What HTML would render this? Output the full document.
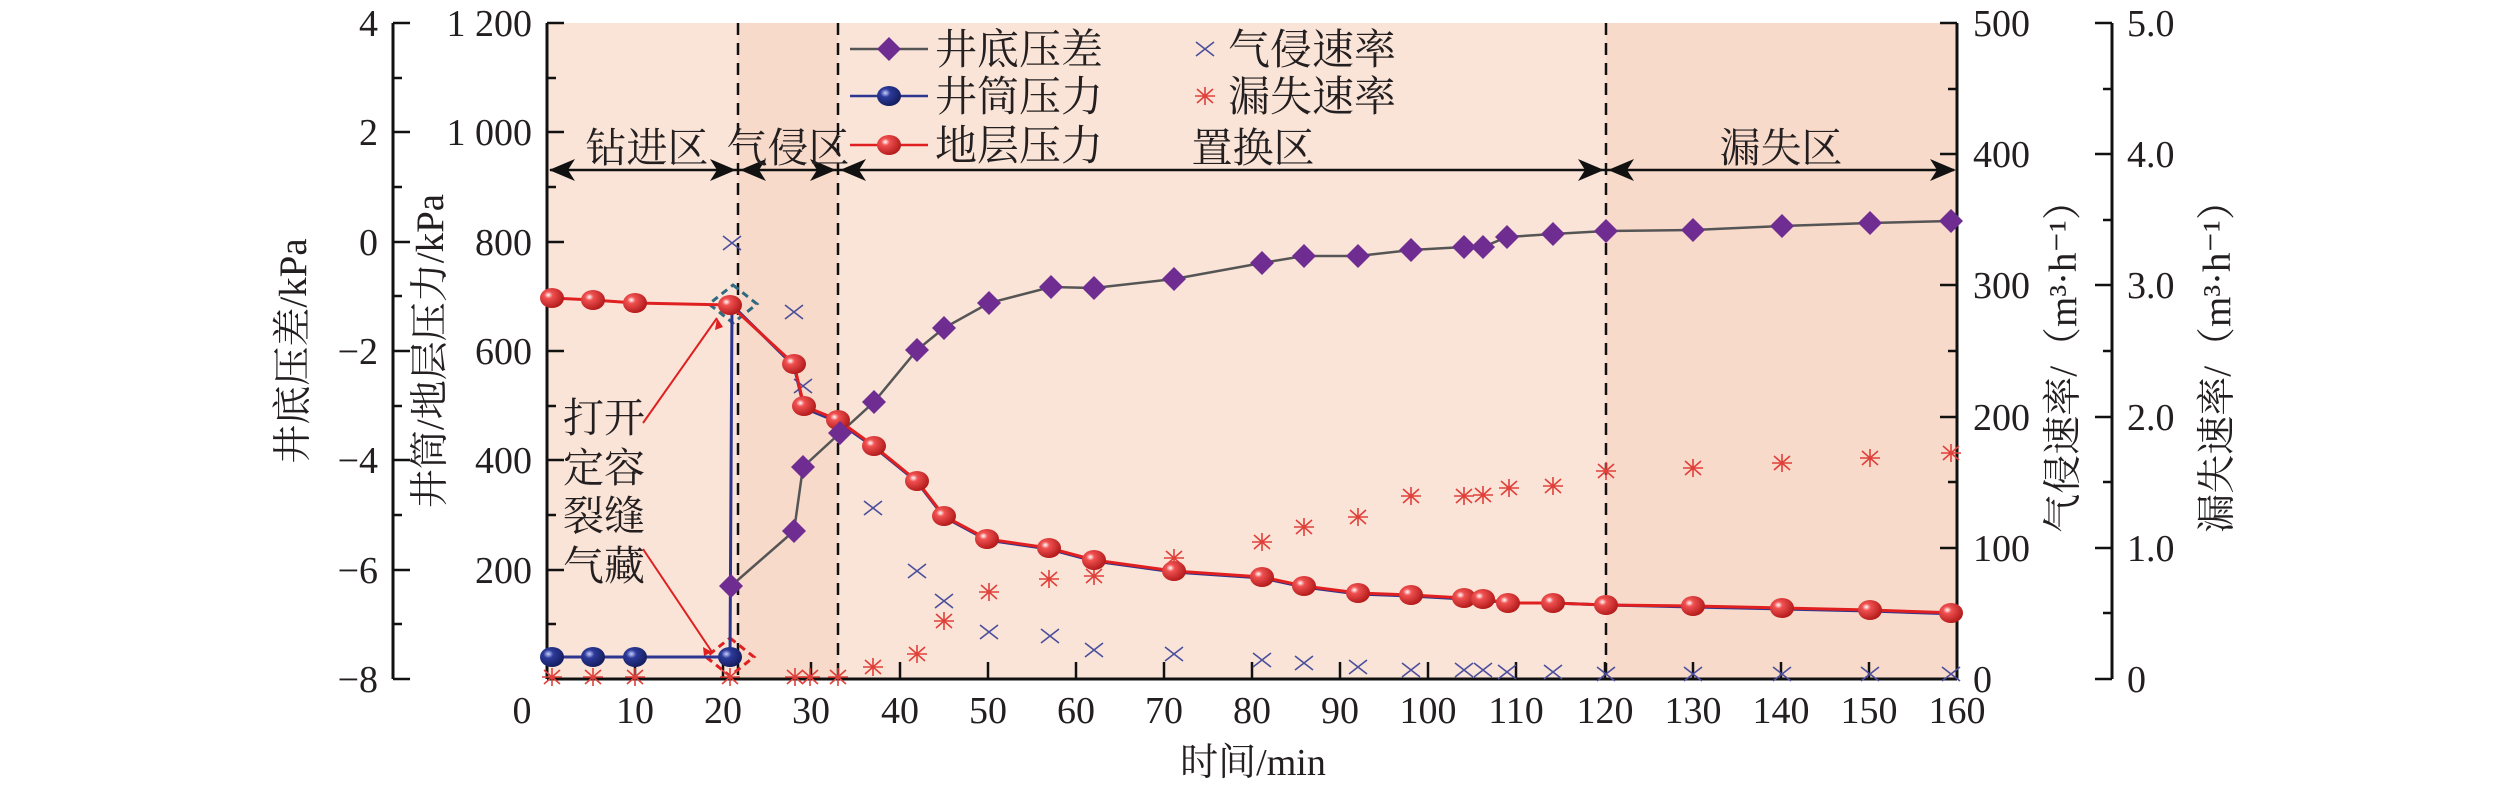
<!DOCTYPE html>
<html><head><meta charset="utf-8"><style>
html,body{margin:0;padding:0;background:#fff;}
svg{display:block;}
text{font-family:"Liberation Serif","Noto Serif CJK SC",serif;fill:#231f20;}
</style></head><body>
<svg width="2519" height="789" viewBox="0 0 2519 789" xmlns="http://www.w3.org/2000/svg">
<defs>
<radialGradient id="rb" cx="0.35" cy="0.35" r="0.7"><stop offset="0" stop-color="#fff"/><stop offset="0.25" stop-color="#f05050"/><stop offset="1" stop-color="#b01818"/></radialGradient>
<radialGradient id="bb" cx="0.35" cy="0.35" r="0.7"><stop offset="0" stop-color="#c8d0ff"/><stop offset="0.3" stop-color="#2c3a9a"/><stop offset="1" stop-color="#141c5c"/></radialGradient>
<g id="ci"><ellipse rx="12" ry="10" fill="url(#rb)"/></g>
<g id="cb"><ellipse rx="12" ry="10" fill="url(#bb)"/></g>
<g id="di"><path d="M0 -12 L12 0 L0 12 L-12 0Z" fill="#6f2c91"/></g>
<g id="xm"><path d="M-9 -7 L9 7 M-9 7 L9 -7" stroke="#4b4f9c" stroke-width="1.6"/></g>
<g id="st"><path d="M-10 0 L10 0 M0 -9 L0 9 M-8 -7 L8 7 M-8 7 L8 -7" stroke="#e0403a" stroke-width="1.6"/></g>
</defs>
<rect x="547" y="23" width="1410" height="656" fill="#fae4d8"/>
<rect x="738" y="23" width="100" height="656" fill="#f8dacb"/>
<rect x="1606" y="23" width="351" height="656" fill="#f8dacb"/>
<g stroke="#111" stroke-width="2.5" stroke-dasharray="12,8">
<line x1="738" y1="23" x2="738" y2="679"/><line x1="838" y1="23" x2="838" y2="679"/><line x1="1606" y1="23" x2="1606" y2="679"/>
</g>
<g stroke="#111" stroke-width="3" fill="none">
<line x1="547" y1="23" x2="547" y2="679"/>
<line x1="1957" y1="23" x2="1957" y2="679"/>
<line x1="547" y1="679" x2="1957" y2="679"/>
<line x1="393" y1="23" x2="393" y2="679"/>
<line x1="2112" y1="23" x2="2112" y2="679"/>
</g>
<g stroke="#111" stroke-width="2.5">
<path d="M393 23h17M393 132h17M393 242h17M393 351h17M393 460h17M393 570h17M393 679h17M393 78h9M393 187h9M393 296h9M393 406h9M393 515h9M393 624h9"/>
<path d="M547 23h17M547 132h17M547 242h17M547 351h17M547 460h17M547 570h17M547 78h9M547 187h9M547 296h9M547 406h9M547 515h9M547 624h9"/>
<path d="M1957 23h-17M1957 154h-17M1957 285h-17M1957 417h-17M1957 548h-17M1957 89h-9M1957 220h-9M1957 351h-9M1957 482h-9M1957 613h-9"/>
<path d="M2112 23h-17M2112 154h-17M2112 285h-17M2112 417h-17M2112 548h-17M2112 679h-17M2112 89h-9M2112 220h-9M2112 351h-9M2112 482h-9M2112 613h-9"/>
<path d="M635 679v-17M723 679v-17M811 679v-17M900 679v-17M988 679v-17M1076 679v-17M1164 679v-17M1252 679v-17M1340 679v-17M1428 679v-17M1516 679v-17M1605 679v-17M1693 679v-17M1781 679v-17M1869 679v-17"/>
</g>
<g font-size="38" text-anchor="end">
<text x="378" y="36">4</text><text x="378" y="145">2</text><text x="378" y="255">0</text><text x="378" y="364">−2</text><text x="378" y="473">−4</text><text x="378" y="583">−6</text><text x="378" y="692">−8</text>
<text x="532" y="36">1 200</text><text x="532" y="145">1 000</text><text x="532" y="255">800</text><text x="532" y="364">600</text><text x="532" y="473">400</text><text x="532" y="583">200</text>
</g>
<g font-size="38" text-anchor="start">
<text x="1973" y="36">500</text><text x="1973" y="167">400</text><text x="1973" y="298">300</text><text x="1973" y="430">200</text><text x="1973" y="561">100</text><text x="1973" y="692">0</text>
<text x="2127" y="36">5.0</text><text x="2127" y="167">4.0</text><text x="2127" y="298">3.0</text><text x="2127" y="430">2.0</text><text x="2127" y="561">1.0</text><text x="2127" y="692">0</text>
</g>
<g font-size="38" text-anchor="middle">
<text x="522" y="723">0</text><text x="635" y="723">10</text><text x="723" y="723">20</text><text x="811" y="723">30</text><text x="900" y="723">40</text><text x="988" y="723">50</text><text x="1076" y="723">60</text><text x="1164" y="723">70</text><text x="1252" y="723">80</text><text x="1340" y="723">90</text><text x="1428" y="723">100</text><text x="1516" y="723">110</text><text x="1605" y="723">120</text><text x="1693" y="723">130</text><text x="1781" y="723">140</text><text x="1869" y="723">150</text><text x="1957" y="723">160</text>
<text x="1253" y="775">时间/min</text>
</g>
<g font-size="39" text-anchor="middle">
<text transform="translate(306,351) rotate(-90)">井底压差/kPa</text>
<text transform="translate(443,351) rotate(-90)">井筒/地层压力/kPa</text>
<text transform="translate(2076,357) rotate(-90)">气侵速率/（m³·h⁻¹）</text>
<text transform="translate(2230,357) rotate(-90)">漏失速率/（m³·h⁻¹）</text>
</g>
<g stroke="#111" stroke-width="2.5"><line x1="550" y1="170" x2="1954" y2="170"/></g>
<g fill="#111">
<path d="M549 170l26-11-7 11 7 11z"/><path d="M736 170l-26-11 7 11-7 11z"/>
<path d="M740 170l26-11-7 11 7 11z"/><path d="M836 170l-26-11 7 11-7 11z"/>
<path d="M840 170l26-11-7 11 7 11z"/><path d="M1604 170l-26-11 7 11-7 11z"/>
<path d="M1608 170l26-11-7 11 7 11z"/><path d="M1956 170l-26-11 7 11-7 11z"/>
</g>
<g font-size="41" text-anchor="middle">
<text x="647" y="162">钻进区</text><text x="788" y="162">气侵区</text><text x="1253" y="162">置换区</text><text x="1781" y="162">漏失区</text>
</g>
<g font-size="41"><text x="563" y="432">打开</text><text x="563" y="482">定容</text><text x="563" y="530">裂缝</text><text x="563" y="580">气藏</text></g>
<g stroke="#e02020" stroke-width="2" fill="none"><path d="M643 423L717 318"/><path d="M643 549L712 652"/></g>
<path d="M717 318l-2 12 8-3z" fill="#e02020"/><path d="M712 652l-9-5 1 9z" fill="#e02020"/>
<path d="M733 285L757 304L733 323L709 304Z" fill="none" stroke="#2e6a80" stroke-width="3" stroke-dasharray="7,5"/>
<path d="M730 638L754 657L730 676L706 657Z" fill="none" stroke="#e02020" stroke-width="3" stroke-dasharray="7,5"/>
<g>
<use href="#st" x="552" y="677"/><use href="#st" x="593" y="677"/><use href="#st" x="635" y="677"/><use href="#st" x="730" y="677"/><use href="#st" x="795" y="677"/><use href="#st" x="810" y="677"/><use href="#st" x="838" y="677"/>
<use href="#st" x="873" y="667"/><use href="#st" x="917" y="654"/><use href="#st" x="944" y="621"/><use href="#st" x="989" y="592"/><use href="#st" x="1049" y="579"/><use href="#st" x="1094" y="576"/><use href="#st" x="1174" y="558"/><use href="#st" x="1262" y="542"/><use href="#st" x="1304" y="527"/><use href="#st" x="1358" y="517"/><use href="#st" x="1411" y="496"/><use href="#st" x="1464" y="496"/><use href="#st" x="1483" y="495"/><use href="#st" x="1509" y="488"/><use href="#st" x="1553" y="486"/><use href="#st" x="1606" y="471"/><use href="#st" x="1693" y="468"/><use href="#st" x="1782" y="463"/><use href="#st" x="1870" y="458"/><use href="#st" x="1951" y="453"/>
</g>
<g>
<use href="#xm" x="732" y="243"/><use href="#xm" x="794" y="312"/><use href="#xm" x="803" y="386"/><use href="#xm" x="873" y="508"/><use href="#xm" x="917" y="571"/><use href="#xm" x="944" y="601"/><use href="#xm" x="989" y="632"/><use href="#xm" x="1050" y="636"/><use href="#xm" x="1094" y="650"/><use href="#xm" x="1174" y="654"/><use href="#xm" x="1262" y="660"/><use href="#xm" x="1304" y="663"/><use href="#xm" x="1358" y="667"/><use href="#xm" x="1411" y="670"/><use href="#xm" x="1464" y="670"/><use href="#xm" x="1483" y="670"/><use href="#xm" x="1507" y="672"/><use href="#xm" x="1553" y="672"/><use href="#xm" x="1606" y="674"/><use href="#xm" x="1693" y="674"/><use href="#xm" x="1782" y="674"/><use href="#xm" x="1870" y="674"/><use href="#xm" x="1951" y="674"/>
</g>
<polyline fill="none" stroke="#555" stroke-width="2.5" points="731,586 794,531 803,467 840,433 874,402 917,350 944,328 989,303 1051,287 1094,288 1174,279 1262,263 1304,256 1358,256 1411,250 1464,247 1483,247 1507,237 1553,234 1606,231 1693,230 1782,226 1870,223 1951,221"/>
<polyline fill="none" stroke="#2c3590" stroke-width="3" points="552,657 593,657 635,657 730,657 732,305 794,366 804,408 838,422 874,447 917,482 944,517 987,540 1049,549 1094,561 1174,572 1262,578 1304,587 1358,594 1411,596 1464,599 1483,600 1508,603 1553,603 1606,605 1693,607 1782,609 1870,611 1957,614"/>
<polyline fill="none" stroke="#e02020" stroke-width="3" points="552,298 593,300 635,303 730,305 794,364 804,406 838,420 874,446 917,481 944,516 987,539 1049,548 1094,560 1174,571 1262,577 1304,586 1358,593 1411,595 1464,598 1483,599 1508,603 1553,603 1606,605 1693,606 1782,608 1870,610 1957,613"/>
<g>
<use href="#cb" x="552" y="657"/><use href="#cb" x="593" y="657"/><use href="#cb" x="635" y="657"/><use href="#cb" x="730" y="657"/>
</g>
<g>
<use href="#ci" x="552" y="298"/><use href="#ci" x="593" y="300"/><use href="#ci" x="635" y="303"/><use href="#ci" x="730" y="305"/><use href="#ci" x="794" y="364"/><use href="#ci" x="804" y="406"/><use href="#ci" x="838" y="420"/><use href="#ci" x="874" y="446"/><use href="#ci" x="917" y="481"/><use href="#ci" x="944" y="516"/><use href="#ci" x="987" y="539"/><use href="#ci" x="1049" y="548"/><use href="#ci" x="1094" y="560"/><use href="#ci" x="1174" y="571"/><use href="#ci" x="1262" y="577"/><use href="#ci" x="1304" y="586"/><use href="#ci" x="1358" y="593"/><use href="#ci" x="1411" y="595"/><use href="#ci" x="1464" y="598"/><use href="#ci" x="1483" y="599"/><use href="#ci" x="1508" y="603"/><use href="#ci" x="1553" y="603"/><use href="#ci" x="1606" y="605"/><use href="#ci" x="1693" y="606"/><use href="#ci" x="1782" y="608"/><use href="#ci" x="1870" y="610"/><use href="#ci" x="1951" y="613"/>
</g>
<g>
<use href="#di" x="731" y="586"/><use href="#di" x="794" y="531"/><use href="#di" x="803" y="467"/><use href="#di" x="840" y="433"/><use href="#di" x="874" y="402"/><use href="#di" x="917" y="350"/><use href="#di" x="944" y="328"/><use href="#di" x="989" y="303"/><use href="#di" x="1051" y="287"/><use href="#di" x="1094" y="288"/><use href="#di" x="1174" y="279"/><use href="#di" x="1262" y="263"/><use href="#di" x="1304" y="256"/><use href="#di" x="1358" y="256"/><use href="#di" x="1411" y="250"/><use href="#di" x="1464" y="247"/><use href="#di" x="1483" y="247"/><use href="#di" x="1507" y="237"/><use href="#di" x="1553" y="234"/><use href="#di" x="1606" y="231"/><use href="#di" x="1693" y="230"/><use href="#di" x="1782" y="226"/><use href="#di" x="1870" y="223"/><use href="#di" x="1951" y="221"/>
</g>
<g stroke-width="2.5">
<line x1="850" y1="49" x2="928" y2="49" stroke="#555"/><line x1="850" y1="96" x2="928" y2="96" stroke="#2c3590"/><line x1="850" y1="145" x2="928" y2="145" stroke="#e02020"/>
</g>
<use href="#di" x="889" y="49"/><use href="#cb" x="889" y="96"/><use href="#ci" x="889" y="145"/>
<use href="#xm" x="1205" y="49"/><use href="#st" x="1205" y="96"/>
<g font-size="42">
<text x="935" y="64">井底压差</text><text x="935" y="111">井筒压力</text><text x="935" y="160">地层压力</text>
<text x="1228" y="64">气侵速率</text><text x="1228" y="111">漏失速率</text>
</g>
</svg>
</body></html>
